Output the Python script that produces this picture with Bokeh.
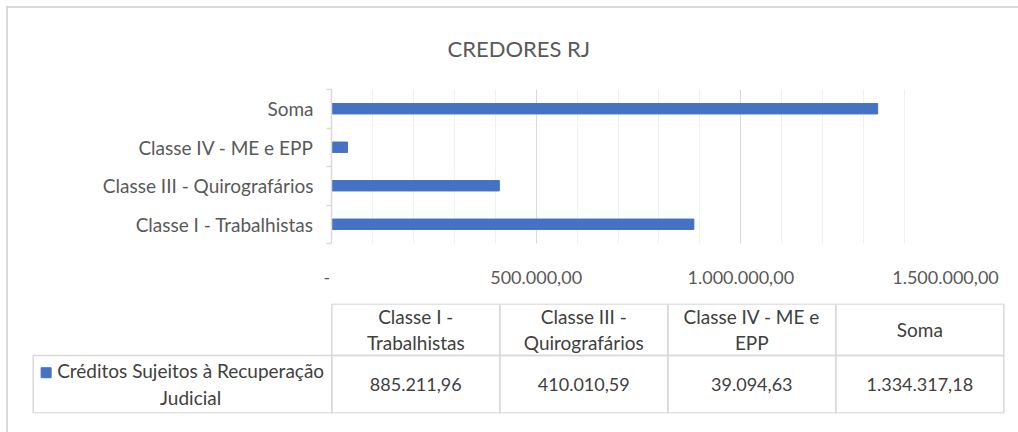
from bokeh.plotting import figure
from bokeh.layouts import column
from bokeh.models import Range1d, FixedTicker, ColumnDataSource
from bokeh.core.properties import value
from bokeh.embed import file_html
from bokeh.resources import INLINE

# ---------------- data ----------------
categories = ["Classe I - Trabalhistas", "Classe III - Quirografários",
              "Classe IV - ME e EPP", "Soma"]
table_headers = ["Classe I -\nTrabalhistas", "Classe III -\nQuirografários",
                 "Classe IV - ME e\nEPP", "Soma"]
values = [885211.96, 410010.59, 39094.63, 1334317.18]
series_name = "Créditos Sujeitos à Recuperação\nJudicial"
title_text = "CREDORES RJ"
x_ticks = [0, 500000, 1000000, 1500000]
x_minor = [i * 100000 for i in range(16)]


def br(v):
    s = f"{v:,.2f}"
    return s.replace(",", "#").replace(".", ",").replace("#", ".")


x_tick_labels = {t: ("-  " if t == 0 else br(t)) for t in x_ticks}

FONT = "Lato"
BAR = "#4472C4"
GRID = "#d9d9d9"
TXT = "#595959"
TTXT = "#404040"

W = 1010

# ---------------- bar chart ----------------
p1 = figure(width=W, height=282, output_backend="svg", toolbar_location=None,
            x_range=Range1d(0, 1500000), y_range=Range1d(0, 4),
            min_border_left=323, min_border_right=73,
            min_border_top=78, min_border_bottom=42,
            title=title_text)
p1.frame_align = False
p1.outline_line_color = None
p1.title.align = "left"
p1.title.offset = 116
p1.title.standoff = 52
p1.title.vertical_align = "top"
p1.title.text_font = FONT
p1.title.text_font_style = "normal"
p1.title.text_font_size = "22px"
p1.title.text_color = TXT

src = ColumnDataSource(dict(y=[i + 0.5 for i in range(len(categories))],
                            right=values, cat=categories))
p1.hbar(y="y", left=0, right="right", height=0.27, color=BAR, source=src)

xa = p1.xaxis[0]
xa.ticker = FixedTicker(ticks=x_ticks, minor_ticks=x_minor)
xa.major_label_overrides = x_tick_labels
xa.axis_line_color = None
xa.major_tick_line_color = None
xa.minor_tick_line_color = None
xa.major_label_standoff = 16
xa.major_label_text_font = FONT
xa.major_label_text_font_size = "18px"
xa.major_label_text_color = TXT

ya = p1.yaxis[0]
ya.ticker = FixedTicker(ticks=[i + 0.5 for i in range(len(categories))],
                        minor_ticks=list(range(len(categories) + 1)))
ya.major_label_overrides = {i + 0.5: c for i, c in enumerate(categories)}
ya.axis_line_color = GRID
ya.axis_line_width = 1.5
ya.major_tick_line_color = None
ya.major_tick_out = 0
ya.major_tick_in = 0
ya.minor_tick_line_color = GRID
ya.minor_tick_line_width = 1.5
ya.minor_tick_out = 5
ya.minor_tick_in = 0
ya.major_label_standoff = 13
ya.major_label_text_font = FONT
ya.major_label_text_font_size = "19px"
ya.major_label_text_color = TXT

p1.xgrid.ticker = xa.ticker
p1.xgrid.grid_line_color = GRID
p1.xgrid.minor_grid_line_color = "#f0f0f0"
p1.ygrid.grid_line_color = None

# ---------------- data table ----------------
LEG = 299 / 168.25
HDR = 51 / 57
p2 = figure(width=W, height=142, output_backend="svg", toolbar_location=None,
            x_range=Range1d(-LEG - 0.01, len(categories) + 0.01),
            y_range=Range1d(-0.01, 1 + HDR + 0.01),
            x_axis_location=None, y_axis_location=None,
            min_border_left=23, min_border_right=13,
            min_border_top=13, min_border_bottom=19)
p2.frame_align = False
p2.outline_line_color = None
p2.grid.visible = False

n = len(categories)
p2.quad(left=list(range(n)) * 2, right=[i + 1 for i in range(n)] * 2,
        bottom=[0] * n + [1] * n, top=[1] * n + [1 + HDR] * n,
        fill_color=None, line_color=GRID, line_width=1.5)
p2.quad(left=[-LEG], right=[0], bottom=[0], top=[1],
        fill_color=None, line_color=GRID, line_width=1.5)

p2.text(x=[i + 0.5 for i in range(n)], y=[1 + HDR / 2] * n, text=table_headers,
        text_align="center", text_baseline="middle",
        text_font=value(FONT), text_font_size="19px", text_color=TTXT,
        text_line_height=1.15)
p2.text(x=[i + 0.5 for i in range(n)], y=[0.5] * n, text=[br(v) for v in values],
        text_align="center", text_baseline="middle",
        text_font=value(FONT), text_font_size="18px", text_color=TTXT)
p2.text(x=[-0.84], y=[0.5], text=[series_name],
        text_align="center", text_baseline="middle",
        text_font=value(FONT), text_font_size="19px", text_color=TTXT,
        text_line_height=1.15)
p2.scatter(x=[-1.70], y=[0.7], marker="square", size=10,
           color=BAR)

layout = column(p1, p2, spacing=0,
                styles={"border-left": "2px solid #d9d9d9",
                        "border-top": "2px solid #d9d9d9",
                        "margin-left": "6px", "margin-top": "6px"})

open("out.html", "w").write(file_html(layout, INLINE))
